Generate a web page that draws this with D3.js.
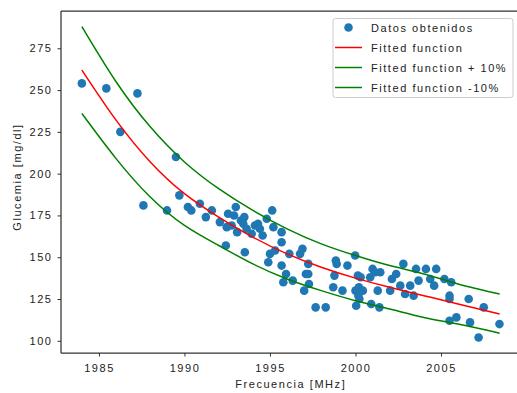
<!DOCTYPE html>
<html><head><meta charset="utf-8">
<script src="https://cdn.jsdelivr.net/npm/d3@7"></script>
<style>
html,body{margin:0;padding:0;background:#fff;}
svg text{font-family:"Liberation Sans",Arial,sans-serif;font-size:11px;fill:#222;letter-spacing:1.55px;}
</style></head>
<body><svg id="c" width="517" height="393"></svg>
<script>
// scatter data: year, glucemia
const dataX = [1984.0,1985.43,1986.25,1987.25,1987.6,1988.98,1989.5,1989.7,1990.2,1990.4,1990.9,1991.25,1991.6,1992.07,1992.42,1992.47,1992.55,1992.76,1992.9,1993.0,1993.08,1993.3,1993.44,1993.5,1993.53,1993.63,1993.93,1994.12,1994.3,1994.41,1994.57,1994.81,1994.9,1995.0,1995.13,1995.2,1995.3,1995.68,1995.68,1995.68,1995.78,1995.94,1996.13,1996.33,1996.76,1996.9,1997.0,1997.1,1997.24,1997.24,1997.28,1997.67,1998.26,1998.7,1998.77,1998.85,1998.9,1999.24,1999.53,1999.98,2000.0,2000.04,2000.08,2000.14,2000.17,2000.2,2000.21,2000.23,2000.3,2000.43,2000.86,2000.92,2001.0,2001.15,2001.3,2001.4,2001.45,2002.03,2002.13,2002.38,2002.62,2002.8,2002.9,2003.2,2003.4,2003.54,2003.69,2004.12,2004.37,2004.6,2004.72,2005.2,2005.5,2005.5,2005.5,2005.6,2005.9,2006.62,2006.7,2007.2,2007.5,2008.42];
const dataY = [254,251,225,248,181,178,210,187,180,178,182,174,178,171,157,168,176,169,175,180,165,172,170,174,153,167,164,169,170,167,163,173,147,152,178,168,154,165,159,145,135,140,152,136,152,155,130,140,146,140,134,120,120,132,139,148,146,130,145,151,130,121,130,139,127,132,131,125,138,130,138,122,143,141,130,120,141,130,137,140,133,146,128,133,127,143,136,143,137,133,143,137,127,125,112,135,114,125,111,102,120,110];
// fitted curves
const curveX = [1984,1986,1988,1990,1992,1994,1996,1998,2000,2002,2004,2006,2008.43];
const fitted = [262,232,207,188,174,162,152,144,137.5,132,127,122,116];
const fittedUp = [288,255,228,207,191,178,167,158,151,145,140,134,128];
const fittedDown = [236,209,186,169,157,146,137,130,124,119,114,110,104.5];
const xTicks = [1985,1990,1995,2000,2005];
const yTicks = [100,125,150,175,200,225,250,275];
const legendLabels = ["Datos obtenidos","Fitted function","Fitted function + 10%","Fitted function -10%"];

const svg = d3.select("#c");
const L=61, R=520.5, T=11, B=353;
const x = d3.scaleLinear().domain([1982.78,2009.65]).range([L,R]);
const y = d3.scaleLinear().domain([92.7,297.3]).range([B,T]);

// axes
const xa = svg.append("g").attr("transform",`translate(0,${B})`)
  .call(d3.axisBottom(x).tickValues(xTicks).tickFormat(d3.format("d")).tickSize(3.5).tickPadding(8));
const ya = svg.append("g").attr("transform",`translate(${L},0)`)
  .call(d3.axisLeft(y).tickValues(yTicks).tickSize(3.5).tickPadding(5));
[xa,ya].forEach(g=>{
  g.select(".domain").remove();
  g.selectAll(".tick line").attr("stroke","#333").attr("stroke-width",1);
  g.selectAll(".tick text").attr("font-size",11).attr("font-family",null).attr("fill","#222");
});
// spines
svg.append("line").attr("x1",L).attr("x2",L).attr("y1",T).attr("y2",B).attr("stroke","#333").attr("stroke-width",1.25);
svg.append("line").attr("x1",L).attr("x2",R).attr("y1",B).attr("y2",B).attr("stroke","#333").attr("stroke-width",1.25);
svg.append("line").attr("x1",L).attr("x2",R).attr("y1",T).attr("y2",T).attr("stroke","#333").attr("stroke-width",1.25);

// points
svg.append("g").selectAll("circle").data(dataX).join("circle")
  .attr("cx",(d)=>x(d)).attr("cy",(d,i)=>y(dataY[i])).attr("r",4.3).attr("fill","#1f77b4");

const line = (arr)=> d3.line().x((d,i)=>x(curveX[i])).y(d=>y(d)).curve(d3.curveNatural)(arr);
svg.append("path").attr("d",line(fitted)).attr("fill","none").attr("stroke","#ff0000").attr("stroke-width",1.5);
svg.append("path").attr("d",line(fittedUp)).attr("fill","none").attr("stroke","#008000").attr("stroke-width",1.5);
svg.append("path").attr("d",line(fittedDown)).attr("fill","none").attr("stroke","#008000").attr("stroke-width",1.5);

// labels
svg.append("text").attr("x",(L+R)/2).attr("y",388).attr("text-anchor","middle").text("Frecuencia [MHz]");
svg.append("text").attr("transform","translate(21,177) rotate(-90)").attr("text-anchor","middle").text("Glucemia [mg/dl]");

// legend
const lg = svg.append("g");
lg.append("rect").attr("x",333).attr("y",18.5).attr("width",180).attr("height",79).attr("rx",2.5)
  .attr("fill","#fff").attr("fill-opacity",0.8).attr("stroke","#ccc").attr("stroke-width",1);
const colors=["#1f77b4","#ff0000","#008000","#008000"];
legendLabels.forEach((t,i)=>{
  const cy = 27.5 + i*20;
  if(i===0) lg.append("circle").attr("cx",348.5).attr("cy",cy).attr("r",4.3).attr("fill",colors[0]);
  else lg.append("line").attr("x1",335).attr("x2",362).attr("y1",cy).attr("y2",cy).attr("stroke",colors[i]).attr("stroke-width",1.5);
  lg.append("text").attr("x",371).attr("y",cy+4).text(t);
});
</script></body></html>
